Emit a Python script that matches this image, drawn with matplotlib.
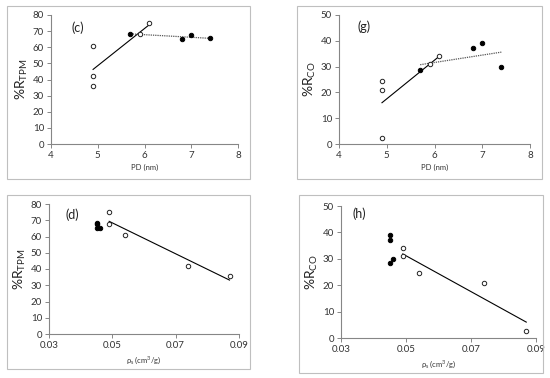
import numpy as np
import matplotlib
matplotlib.use('Agg')
import matplotlib.pyplot as plt
from matplotlib.patches import Rectangle

plt.rcParams['font.family'] = ['Lato', 'DejaVu Sans']
plt.rcParams['mathtext.fontset'] = 'custom'
plt.rcParams['mathtext.rm'] = 'Lato'
plt.rcParams['mathtext.it'] = 'Lato:italic'

# open symbols
pd_open = [4.9, 4.9, 4.9, 5.9, 6.1]
rho_open = [0.054, 0.074, 0.087, 0.049, 0.049]
tpm_open = [61, 42, 36, 68, 75]
co_open = [24.5, 21, 2.5, 31, 34]

# filled symbols
pd_fill = [5.7, 6.8, 7.0, 7.4]
rho_fill = [0.045, 0.045, 0.045, 0.046]
tpm_fill = [68.5, 65, 67.5, 65.5]
co_fill = [28.5, 37.2, 39, 30]

fig = plt.figure(figsize=(5.5, 3.78), dpi=100)
W, H = 550.0, 378.0


def box(x0, y0, x1, y1):
    return [x0 / W, 1 - y1 / H, (x1 - x0) / W, (y1 - y0) / H]


def trend(ax, x, y, **kw):
    k, b = np.polyfit(x, y, 1)
    xs = np.array([min(x), max(x)])
    ax.plot(xs, k * xs + b, **kw)


panels = [
    # border, axes, x-data, y-data, ylim, yticks, xlim, xticks, label, ylabel, xlabel, label pos
    ((7, 6, 250, 179), (51, 15, 238, 144), pd_open, tpm_open, pd_fill, tpm_fill,
     (0, 80), range(0, 81, 10), (4, 8), [4, 5, 6, 7, 8], '(c)', r'%R$_{\rm TPM}$', 'PD (nm)', (0.11, 0.9), True),
    ((297, 6, 542, 179), (339, 15, 530, 144), pd_open, co_open, pd_fill, co_fill,
     (0, 50), range(0, 51, 10), (4, 8), [4, 5, 6, 7, 8], '(g)', r'%R$_{\rm CO}$', 'PD (nm)', (0.095, 0.91), True),
    ((7, 195, 250, 369), (49, 204, 239, 334), rho_open, tpm_open, rho_fill, tpm_fill,
     (0, 80), range(0, 81, 10), (0.03, 0.09), [0.03, 0.05, 0.07, 0.09], '(d)', r'%R$_{\rm TPM}$',
     r'ρ$_{\rm s}$ (cm$^{3}$/g)', (0.085, 0.92), False),
    ((299, 195, 543, 373), (341, 206, 536, 338), rho_open, co_open, rho_fill, co_fill,
     (0, 50), range(0, 51, 10), (0.03, 0.09), [0.03, 0.05, 0.07, 0.09], '(h)', r'%R$_{\rm CO}$',
     r'ρ$_{\rm s}$ (cm$^{3}$/g)', (0.06, 0.94), False),
]

for (brd, axb, xo, yo, xf, yf, ylim, yt, xlim, xt, lab, ylab, xlab, lpos, dotted) in panels:
    fig.patches.append(Rectangle(box(*brd)[:2], box(*brd)[2], box(*brd)[3],
                                 transform=fig.transFigure, fill=False,
                                 edgecolor='#bfbfbf', lw=0.8))
    ax = fig.add_axes(box(*axb))
    trend(ax, xo, yo, color='black', lw=0.8, zorder=2)
    if dotted:
        trend(ax, xf, yf, color='#555555', lw=0.9, ls=(0, (1, 0.8)), zorder=2)
    ax.plot(xo, yo, 'o', ms=3.2, mfc='white', mec='#222222', mew=0.7, zorder=3)
    ax.plot(xf, yf, 'o', ms=3.2, mfc='black', mec='black', mew=0.7, zorder=3)
    ax.set_xlim(*xlim)
    ax.set_ylim(*ylim)
    ax.set_xticks(xt)
    ax.set_xticklabels([str(v) for v in xt])
    ax.set_yticks(list(yt))
    for s in ['top', 'right']:
        ax.spines[s].set_visible(False)
    for s in ['left', 'bottom']:
        ax.spines[s].set_color('#868686')
        ax.spines[s].set_linewidth(0.8)
    ax.tick_params(direction='out', length=3, width=0.7, color='#868686',
                   labelsize=7, pad=2, labelcolor='#333333')
    ax.set_ylabel(ylab, fontsize=10, labelpad=2, color='#222222')
    ax.set_xlabel(xlab, fontsize=5.5, labelpad=3, color='#333333')
    ax.text(lpos[0], lpos[1], lab, transform=ax.transAxes, fontsize=9,
            ha='left', va='center', color='#222222')

fig.savefig('out.png', dpi=100)
